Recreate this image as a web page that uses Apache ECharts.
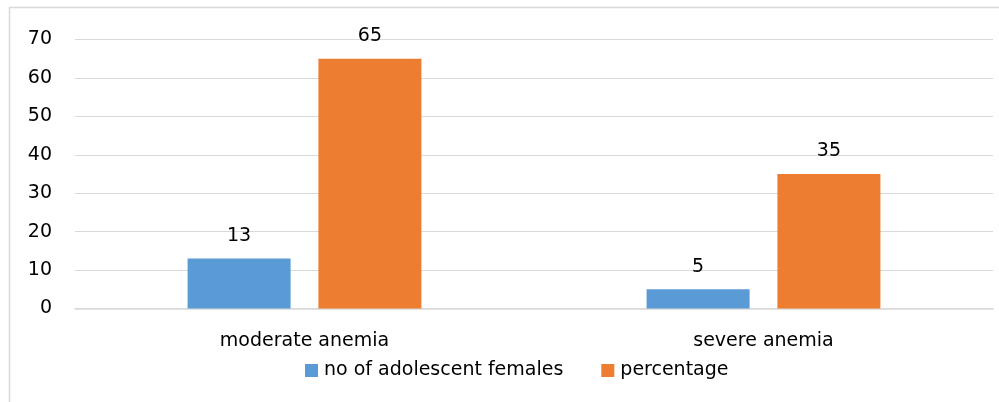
<!DOCTYPE html>
<html>
<head>
<meta charset="utf-8">
<script src="https://cdn.jsdelivr.net/npm/echarts@6/dist/echarts.min.js"></script>
<style>
  html, body { margin: 0; padding: 0; background: #fff; }
  #chart { width: 999px; height: 402px; }
</style>
</head>
<body>
<div id="chart"></div>
<script>
// Anemia severity among adolescent females: counts and percentages
const categories = ['moderate anemia', 'severe anemia'];
const femaleCounts = [13, 5];
const percentages = [65, 35];
const seriesNames = ['no of adolescent females', 'percentage'];
const yTicks = { min: 0, max: 70, step: 10 };

const FONT = 'DejaVu Sans';
const TEXT = '#000';
const GRID_LINE = '#D9D9D9';

const chart = echarts.init(document.getElementById('chart'), null, { renderer: 'canvas' });

const labelStyle = {
  show: true,
  position: 'top',
  distance: 13,
  color: TEXT,
  fontFamily: FONT,
  fontSize: 19
};

chart.setOption({
  animation: false,
  backgroundColor: '#fff',
  graphic: [{
    type: 'rect',
    shape: { x: 9.5, y: 7.5, width: 1000, height: 400 },
    style: { fill: 'none', stroke: GRID_LINE, lineWidth: 1.5 },
    silent: true
  }],
  grid: { left: 75, right: 6, top: 39.5, bottom: 93.5, containLabel: false },
  legend: {
    left: 300,
    top: 356,
    itemWidth: 13,
    itemHeight: 13,
    itemGap: 38,
    icon: 'rect',
    textStyle: { color: TEXT, fontFamily: FONT, fontSize: 19, padding: [0, 0, 0, 1] },
    data: seriesNames
  },
  xAxis: {
    type: 'category',
    data: categories,
    axisLine: { lineStyle: { color: GRID_LINE, width: 1.5 } },
    axisTick: { show: false },
    axisLabel: { color: TEXT, fontFamily: FONT, fontSize: 19, margin: 23 }
  },
  yAxis: {
    type: 'value',
    min: yTicks.min,
    max: yTicks.max,
    interval: yTicks.step,
    axisLine: { show: false },
    axisTick: { show: false },
    splitLine: { lineStyle: { color: GRID_LINE, width: 1.2 } },
    axisLabel: { color: TEXT, fontFamily: FONT, fontSize: 19, margin: 23 }
  },
  series: [
    {
      name: seriesNames[0],
      type: 'bar',
      data: femaleCounts,
      barWidth: 103,
      barGap: '27%',
      itemStyle: { color: '#5B9BD5' },
      label: labelStyle
    },
    {
      name: seriesNames[1],
      type: 'bar',
      data: percentages,
      barWidth: 103,
      itemStyle: { color: '#ED7D31' },
      label: labelStyle
    }
  ]
});
</script>
</body>
</html>
